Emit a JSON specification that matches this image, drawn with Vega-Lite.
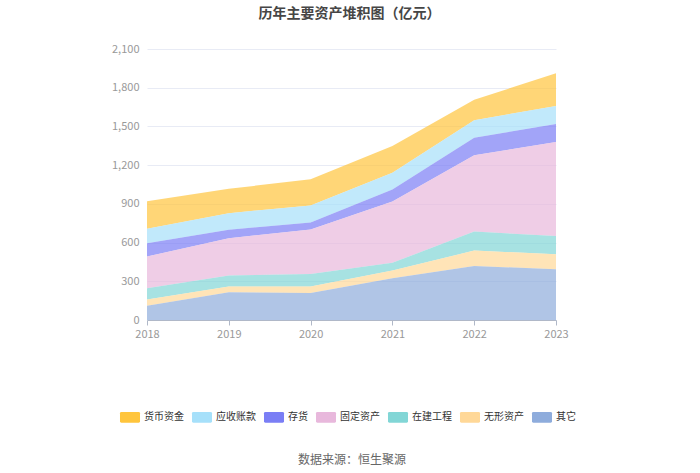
{
  "$schema": "https://vega.github.io/schema/vega-lite/v6.json",
  "width": 409,
  "height": 271,
  "autosize": "none",
  "padding": {"left": 147, "top": 49, "right": 144, "bottom": 153},
  "background": "#ffffff",
  "title": {
    "text": "历年主要资产堆积图（亿元）",
    "fontSize": 14,
    "fontWeight": "bold",
    "color": "#464646",
    "font": "Noto Sans CJK SC",
    "anchor": "middle",
    "frame": "group",
    "dx": -2,
    "offset": 22
  },
  "data": {
    "values": [
      {"year": "2018", "item": "货币资金", "rank": 7, "value": 214},
      {"year": "2018", "item": "应收账款", "rank": 6, "value": 112},
      {"year": "2018", "item": "存货", "rank": 5, "value": 103},
      {"year": "2018", "item": "固定资产", "rank": 4, "value": 246},
      {"year": "2018", "item": "在建工程", "rank": 3, "value": 88},
      {"year": "2018", "item": "无形资产", "rank": 2, "value": 47},
      {"year": "2018", "item": "其它", "rank": 1, "value": 111},
      {"year": "2019", "item": "货币资金", "rank": 7, "value": 189},
      {"year": "2019", "item": "应收账款", "rank": 6, "value": 129},
      {"year": "2019", "item": "存货", "rank": 5, "value": 65},
      {"year": "2019", "item": "固定资产", "rank": 4, "value": 290},
      {"year": "2019", "item": "在建工程", "rank": 3, "value": 85},
      {"year": "2019", "item": "无形资产", "rank": 2, "value": 44},
      {"year": "2019", "item": "其它", "rank": 1, "value": 215},
      {"year": "2020", "item": "货币资金", "rank": 7, "value": 202},
      {"year": "2020", "item": "应收账款", "rank": 6, "value": 132},
      {"year": "2020", "item": "存货", "rank": 5, "value": 55},
      {"year": "2020", "item": "固定资产", "rank": 4, "value": 344},
      {"year": "2020", "item": "在建工程", "rank": 3, "value": 98},
      {"year": "2020", "item": "无形资产", "rank": 2, "value": 49},
      {"year": "2020", "item": "其它", "rank": 1, "value": 210},
      {"year": "2021", "item": "货币资金", "rank": 7, "value": 208},
      {"year": "2021", "item": "应收账款", "rank": 6, "value": 129},
      {"year": "2021", "item": "存货", "rank": 5, "value": 93},
      {"year": "2021", "item": "固定资产", "rank": 4, "value": 476},
      {"year": "2021", "item": "在建工程", "rank": 3, "value": 60},
      {"year": "2021", "item": "无形资产", "rank": 2, "value": 59},
      {"year": "2021", "item": "其它", "rank": 1, "value": 324},
      {"year": "2022", "item": "货币资金", "rank": 7, "value": 158},
      {"year": "2022", "item": "应收账款", "rank": 6, "value": 135},
      {"year": "2022", "item": "存货", "rank": 5, "value": 137},
      {"year": "2022", "item": "固定资产", "rank": 4, "value": 590},
      {"year": "2022", "item": "在建工程", "rank": 3, "value": 148},
      {"year": "2022", "item": "无形资产", "rank": 2, "value": 119},
      {"year": "2022", "item": "其它", "rank": 1, "value": 419},
      {"year": "2023", "item": "货币资金", "rank": 7, "value": 254},
      {"year": "2023", "item": "应收账款", "rank": 6, "value": 140},
      {"year": "2023", "item": "存货", "rank": 5, "value": 139},
      {"year": "2023", "item": "固定资产", "rank": 4, "value": 730},
      {"year": "2023", "item": "在建工程", "rank": 3, "value": 140},
      {"year": "2023", "item": "无形资产", "rank": 2, "value": 117},
      {"year": "2023", "item": "其它", "rank": 1, "value": 393}
    ]
  },
  "mark": {"type": "area", "fillOpacity": 0.7, "interpolate": "linear"},
  "encoding": {
    "x": {
      "field": "year",
      "type": "ordinal",
      "scale": {"type": "point", "padding": 0},
      "axis": {
        "title": "数据来源：恒生聚源",
        "titleFont": "Noto Sans CJK SC",
        "titleFontSize": 12,
        "titleFontWeight": "normal",
        "titleColor": "#666666",
        "titlePadding": 115,
        "labelAngle": 0,
        "labelColor": "#999999",
        "labelFontSize": 11,
        "labelPadding": 3,
        "domainColor": "#b0b8c8",
        "tickColor": "#b0b8c8",
        "tickSize": 5,
        "grid": false
      }
    },
    "y": {
      "field": "value",
      "type": "quantitative",
      "stack": "zero",
      "scale": {"domain": [0, 2100]},
      "axis": {
        "title": null,
        "values": [0, 300, 600, 900, 1200, 1500, 1800, 2100],
        "format": ",d",
        "labelColor": "#999999",
        "labelFontSize": 11,
        "labelPadding": 8,
        "domain": false,
        "ticks": false,
        "gridColor": "#e8ebf5"
      }
    },
    "order": {"field": "rank", "type": "quantitative"},
    "color": {
      "field": "item",
      "type": "nominal",
      "scale": {
        "domain": ["货币资金", "应收账款", "存货", "固定资产", "在建工程", "无形资产", "其它"],
        "range": ["#ffc53d", "#a6e0fa", "#7a7ef5", "#e8b8dc", "#82d6d6", "#ffd898", "#8eacdc"]
      },
      "legend": {
        "title": null,
        "orient": "none",
        "direction": "horizontal",
        "legendX": -24,
        "legendY": 361,
        "symbolType": "M-1.3,-0.8 L1.3,-0.8 Q1.5,-0.8 1.5,-0.6 L1.5,0.6 Q1.5,0.8 1.3,0.8 L-1.3,0.8 Q-1.5,0.8 -1.5,0.6 L-1.5,-0.6 Q-1.5,-0.8 -1.3,-0.8 Z",
        "symbolSize": 178,
        "symbolOpacity": 1,
        "symbolStrokeWidth": 0,
        "labelFont": "Noto Sans CJK SC",
        "labelFontSize": 10,
        "labelColor": "#333333",
        "columnPadding": 7,
        "labelOffset": 7
      }
    }
  },
  "config": {
    "view": {"stroke": null},
    "font": "Noto Sans CJK SC"
  }
}
